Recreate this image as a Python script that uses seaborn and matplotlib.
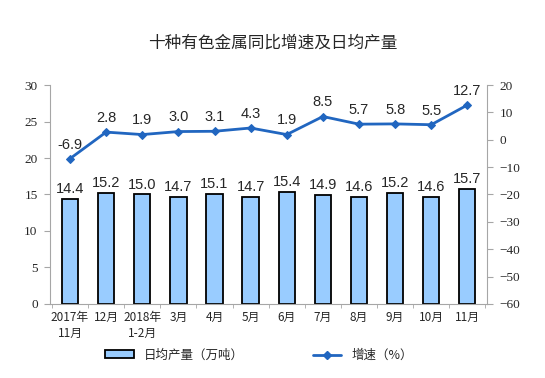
import numpy as np
import pandas as pd
import seaborn as sns
import matplotlib.pyplot as plt
from matplotlib.patches import Patch
from matplotlib.lines import Line2D

# 数据
months = ['2017年\n11月', '12月', '2018年\n1-2月', '3月', '4月', '5月', '6月', '7月', '8月', '9月', '10月', '11月']
daily_output = [14.4, 15.2, 15.0, 14.7, 15.1, 14.7, 15.4, 14.9, 14.6, 15.2, 14.6, 15.7]
growth = [-6.9, 2.8, 1.9, 3.0, 3.1, 4.3, 1.9, 8.5, 5.7, 5.8, 5.5, 12.7]

sns.set_style('white')
plt.rcParams['font.family'] = ['Noto Sans CJK SC', 'DejaVu Sans']

bar_color = '#99CCFF'
line_color = '#2166C0'
spine_color = '#A6A6A6'

df = pd.DataFrame({'月份': months, '日均产量': daily_output, '增速': growth})

fig = plt.figure(figsize=(5.45, 3.78), dpi=100)
ax = fig.add_axes([0.092, 0.196, 0.802, 0.579])

sns.barplot(data=df, x='月份', y='日均产量', ax=ax, color=bar_color,
            edgecolor='black', linewidth=1.3, width=0.45, saturation=1)
ax.set_ylim(0, 30)
ax.set_yticks(range(0, 31, 5))
ax.set_xlim(-0.55, len(months) - 0.45)
ax.set_xlabel('')
ax.set_ylabel('')

for i, v in enumerate(daily_output):
    ax.text(i, v + 0.4, f'{v:.1f}', ha='center', va='bottom', fontsize=10.5,
            family='Liberation Sans')

ax2 = ax.twinx()
sns.lineplot(x=np.arange(len(months)), y=growth, ax=ax2, color=line_color,
             marker='D', markersize=4.5, markeredgecolor=line_color, linewidth=2)
ax2.set_ylim(-60, 20)
ax2.set_yticks(range(-60, 21, 10))
ax2.set_ylabel('')

for i, v in enumerate(growth):
    ax2.text(i, v + 2.6, f'{v:.1f}', ha='center', va='bottom', fontsize=10.5,
             family='Liberation Sans')

for a in (ax, ax2):
    for s in a.spines.values():
        s.set_visible(False)
ax.spines['left'].set_visible(True)
ax.spines['left'].set_color(spine_color)
ax.spines['bottom'].set_visible(True)
ax.spines['bottom'].set_color(spine_color)
ax2.spines['right'].set_visible(True)
ax2.spines['right'].set_color(spine_color)

ax.tick_params(axis='y', length=4, color=spine_color, labelsize=9.5, pad=5, left=True,
               labelfontfamily='Liberation Serif')
ax2.tick_params(axis='y', length=4, color=spine_color, labelsize=9.5, pad=5, right=True,
                labelfontfamily='Liberation Serif')

ax.set_xticks(np.arange(len(months)))
ax.set_xticklabels(months, fontsize=8.5, linespacing=1.3)
ax.tick_params(axis='x', length=0, pad=5)
ax.set_xticks(np.arange(len(months) + 1) - 0.5, minor=True)
ax.tick_params(axis='x', which='minor', length=3, color=spine_color, bottom=True)

fig.text(0.5, 0.885, '十种有色金属同比增速及日均产量', ha='center', va='center', fontsize=12)

handles = [Patch(facecolor=bar_color, edgecolor='black', linewidth=1.3, label='日均产量（万吨）'),
           Line2D([0], [0], color=line_color, linewidth=2, marker='D', markersize=4.5, label='增速（%）')]
fig.legend(handles=handles, loc='center', bbox_to_anchor=(0.475, 0.06), ncol=2, frameon=False,
           fontsize=9, columnspacing=5.5, handlelength=2.3, handleheight=0.6)

fig.savefig('out.png', dpi=100)
